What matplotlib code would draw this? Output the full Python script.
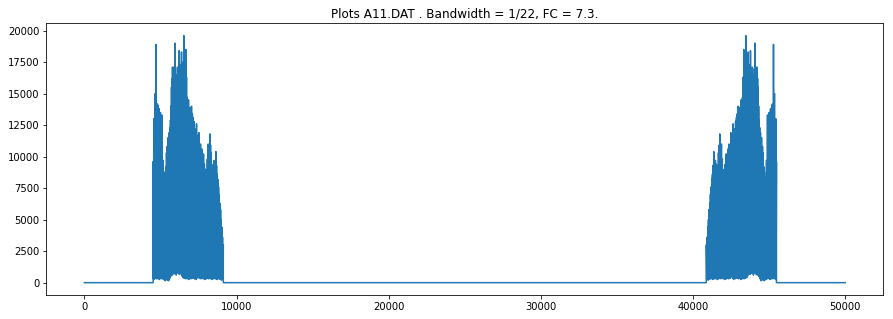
import numpy as np
import matplotlib
matplotlib.use("Agg")
import matplotlib.pyplot as plt

# spectrum magnitude of A11.DAT
n_samples = 50000

# lower-frequency band: local peak heights and the troughs right after them
band_x = [4520, 4560, 4605, 4650, 4715, 4770, 4825, 4870, 4912, 4960,
          5000, 5060, 5110, 5175, 5220, 5263, 5310, 5350, 5395, 5437,
          5500, 5570, 5620, 5657, 5690, 5723, 5760, 5789, 5830, 5877,
          5910, 5942, 5975, 6008, 6060, 6118, 6170, 6228, 6260, 6294,
          6340, 6382, 6415, 6447, 6490, 6535, 6570, 6601, 6635, 6667,
          6710, 6754, 6800, 6842, 6885, 6930, 6985, 7039, 7095, 7149,
          7205, 7259, 7310, 7368, 7400, 7434, 7480, 7522, 7580, 7632,
          7675, 7719, 7775, 7829, 7885, 7939, 7980, 8026, 8080, 8136,
          8190, 8246, 8290, 8333, 8380, 8421, 8475, 8531, 8585, 8640,
          8685, 8728, 8772, 8816, 8860, 8904, 8950, 8991, 9035, 9079,
          9130]
band_top = [9600, 13000, 12500, 15000, 18900, 14200, 14100, 12000, 13800, 9400,
            13500, 11000, 13300, 9700, 8400, 6500, 8800, 9200, 10300, 10800,
            11500, 11900, 12300, 12900, 14000, 15500, 16200, 17100, 16500, 17100,
            16000, 19000, 17000, 15800, 16500, 17100, 16800, 18400, 17000, 17300,
            16900, 18300, 17200, 16800, 17500, 19600, 17600, 17100, 17000, 18500,
            16300, 14700, 14300, 14500, 13800, 13900, 13600, 14000, 13400, 13100,
            12800, 12200, 11800, 12600, 11700, 11300, 11000, 11900, 10900, 11000,
            10400, 10600, 10200, 10200, 9400, 9000, 8900, 8950, 9800, 11000,
            10000, 11800, 10900, 10300, 9300, 9000, 9400, 9700, 9600, 10400,
            9300, 8600, 8200, 7600, 7000, 6300, 5800, 5000, 4400, 3600,
            3000]
band_low = [300, 250, 400, 350, 300, 450, 300, 400, 250, 350,
            500, 300, 400, 250, 350, 200, 150, 250, 300, 200,
            150, 300, 450, 500, 650, 700, 600, 900, 700, 700,
            1000, 800, 1500, 600, 900, 750, 800, 650, 700, 900,
            700, 600, 500, 400, 500, 350, 450, 400, 300, 450,
            400, 300, 450, 250, 400, 350, 300, 350, 400, 350,
            300, 450, 250, 350, 400, 1400, 500, 350, 400, 300,
            450, 350, 300, 400, 250, 350, 300, 450, 350, 300,
            400, 350, 300, 450, 250, 350, 300, 400, 300, 350,
            250, 300, 400, 300, 350, 250, 300, 200, 300, 250,
            200]

bx = np.array(band_x, dtype=float)
trough_x = np.append((bx[:-1] + bx[1:]) / 2, bx[-1])
zig_x = np.column_stack([bx, trough_x]).ravel()
zig_y = np.column_stack([band_top, band_low]).ravel()

# real input -> magnitude spectrum is mirrored about N/2
left_x = np.concatenate([[0, bx[0]], zig_x, [bx[-1]]])
left_y = np.concatenate([[0, 0], zig_y, [0]])
right_x = n_samples - left_x[::-1]
right_y = left_y[::-1]
x = np.concatenate([left_x, right_x])
y = np.concatenate([left_y, right_y])
x[-1] = n_samples - 1

fig = plt.figure(figsize=(893 / 72, 319 / 72), dpi=72)
ax = fig.add_axes([0.0519, 0.0752, 0.9372, 0.852])
ax.plot(x, y, color="#1f77b4", lw=1.5)
ax.set_yticks(np.arange(0, 20001, 2500))
ax.set_xticks(np.arange(0, 50001, 10000))
ax.set_title("Plots A11.DAT . Bandwidth = 1/22, FC = 7.3.")
fig.savefig("out.png", dpi=72)
